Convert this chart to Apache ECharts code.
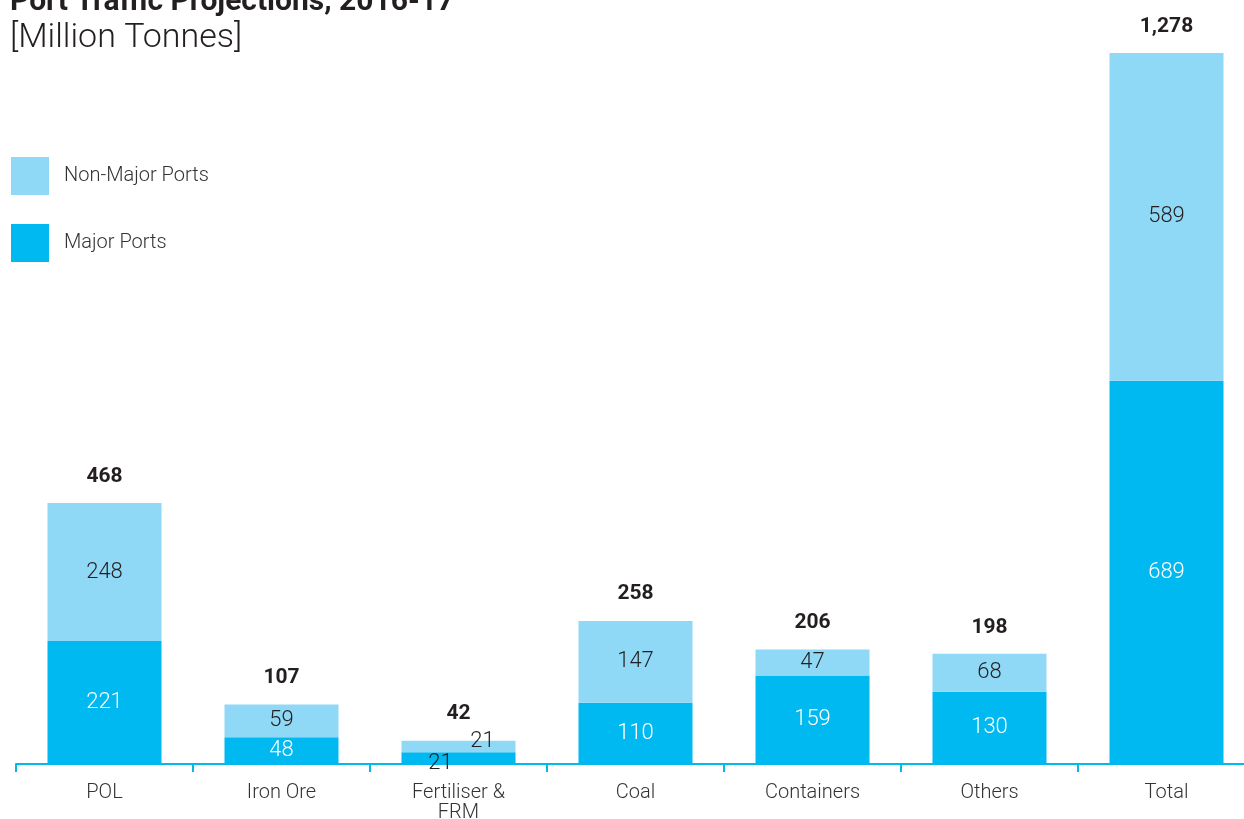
<!DOCTYPE html>
<html>
<head>
<meta charset="utf-8">
<script src="https://cdn.jsdelivr.net/npm/echarts@6/dist/echarts.min.js"></script>
<style>
  html, body { margin: 0; padding: 0; background: #ffffff; overflow: hidden; }
  #chart { width: 1244px; height: 819px; }
</style>
</head>
<body>
<div id="chart"></div>
<script>
// Port traffic by commodity, million tonnes
const categories = ['POL', 'Iron Ore', 'Fertiliser &\nFRM', 'Coal', 'Containers', 'Others', 'Total'];
const majorPorts = [221, 48, 21, 110, 159, 130, 689];
const nonMajorPorts = [248, 59, 21, 147, 47, 68, 589];
const totals = [468, 107, 42, 258, 206, 198, 1278];

const MAJOR = '#00B9F1';
const NON_MAJOR = '#8FD8F6';
const INK = '#231F20';
const FONT = 'Roboto, "Open Sans", sans-serif';

const chart = echarts.init(document.getElementById('chart'));

// Fertiliser bar is thin, so its two labels are pushed aside
const majorData = majorPorts.map((v, i) => i === 2
  ? { value: v, label: { color: INK, offset: [-18, 5] } }
  : v);
const nonMajorData = nonMajorPorts.map((v, i) => i === 2
  ? { value: v, label: { offset: [24, -5] } }
  : v);

chart.setOption({
  animation: false,
  graphic: [
    {
      type: 'text', left: 10, top: -13,
      style: { text: 'Port Traffic Projections, 2016-17', font: 'bold 30px ' + FONT, fill: INK }
    },
    {
      type: 'text', left: 10, top: 21,
      style: { text: '[Million Tonnes]', font: '300 34px ' + FONT, fill: INK }
    }
  ],
  legend: {
    data: ['Non-Major Ports', 'Major Ports'],
    orient: 'vertical',
    left: 11, top: 157,
    padding: 0,
    itemWidth: 38, itemHeight: 38, itemGap: 29,
    icon: 'rect',
    textStyle: { color: '#333', fontSize: 20, fontWeight: 300, fontFamily: FONT, padding: [6, 0, 0, 10] }
  },
  // the last category runs past the right edge; the axis keeps going off-page
  grid: { left: 16, top: 13, width: 1239, bottom: 55, outerBoundsMode: 'none', containLabel: false },
  xAxis: {
    type: 'category',
    data: categories,
    axisLine: { show: true, lineStyle: { color: MAJOR, width: 2 } },
    axisTick: { show: true, interval: 0, alignWithLabel: false, length: 8, lineStyle: { color: MAJOR, width: 2 } },
    axisLabel: { color: '#333', fontSize: 20, fontWeight: 300, fontFamily: FONT, margin: 19, lineHeight: 20 }
  },
  yAxis: { type: 'value', min: 0, max: 1350, show: false, splitLine: { show: false } },
  series: [
    {
      name: 'Major Ports', type: 'bar', stack: 'ports', barWidth: 114,
      itemStyle: { color: MAJOR },
      label: { show: true, position: 'inside', color: '#ffffff', fontSize: 22, fontWeight: 300, fontFamily: FONT },
      data: majorData
    },
    {
      name: 'Non-Major Ports', type: 'bar', stack: 'ports', barWidth: 114,
      itemStyle: { color: NON_MAJOR },
      label: { show: true, position: 'inside', color: INK, fontSize: 22, fontWeight: 300, fontFamily: FONT },
      data: nonMajorData
    },
    {
      // totals sit above each stack as bold labels
      name: 'Total', type: 'scatter', symbolSize: 0, silent: true,
      itemStyle: { opacity: 1 },
      label: { show: true, position: 'top', distance: 16, color: INK, fontSize: 21, fontWeight: 'bold', fontFamily: FONT,
        formatter: p => p.value.toLocaleString('en-US') },
      data: totals
    }
  ]
});
</script>
</body>
</html>
